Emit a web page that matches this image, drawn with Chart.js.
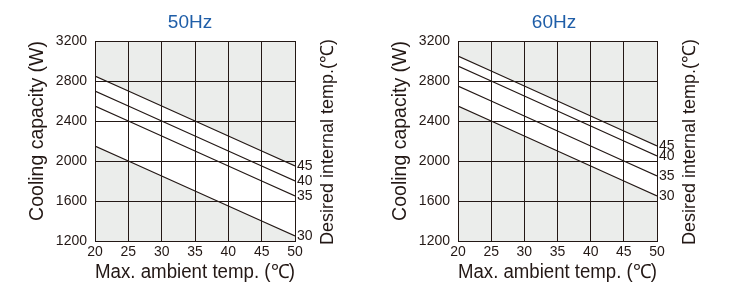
<!DOCTYPE html>
<html><head><meta charset="utf-8">
<script src="https://cdn.jsdelivr.net/npm/chart.js@4/dist/chart.umd.min.js"></script>
<style>
html,body{margin:0;padding:0;background:#fff;}
#wrap{position:relative;width:740px;height:300px;overflow:hidden;}
.c{position:absolute;top:0;width:370px;height:300px;}
</style></head><body>
<div id="wrap">
<div class="c" style="left:0"><canvas id="c50" width="370" height="300"></canvas></div>
<div class="c" style="left:370px"><canvas id="c60" width="370" height="300"></canvas></div>
</div>
<script>
// Max. ambient temp. (°C) — x categories
const ambientTemps = [20, 25, 30, 35, 40, 45, 50];
// Desired internal temp. series names
const internalTemps = ['45', '40', '35', '30'];

// 50Hz cooling capacity (W)
const hz50_45 = [2850, 2700, 2550, 2400, 2250, 2100, 1950];
const hz50_40 = [2700, 2550, 2400, 2250, 2100, 1950, 1800];
const hz50_35 = [2550, 2400, 2250, 2100, 1950, 1800, 1650];
const hz50_30 = [2150, 2000, 1850, 1700, 1550, 1400, 1250];

// 60Hz cooling capacity (W)
const hz60_45 = [3050, 2900, 2750, 2600, 2450, 2300, 2150];
const hz60_40 = [2950, 2800, 2650, 2500, 2350, 2200, 2050];
const hz60_35 = [2750, 2600, 2450, 2300, 2150, 2000, 1850];
const hz60_30 = [2550, 2400, 2250, 2100, 1950, 1800, 1650];

// axis tick settings
const yMin = 1200, yMax = 3200, yStep = 400;
const xMin = 20, xMax = 50, xStep = 5;

const INK = '#231815';
const BG = '#ebedeb';
const TITLE_BLUE = '#1f5ea8';
const FAM = "'Liberation Sans', Arial, sans-serif";

const bgPlugin = {
  id: 'bgArea',
  beforeDraw(chart) {
    const {ctx, chartArea: a} = chart;
    ctx.save();
    ctx.fillStyle = BG;
    ctx.fillRect(a.left, a.top, a.right - a.left, a.bottom - a.top);
    ctx.restore();
  }
};

const rightTitlePlugin = {
  id: 'rightTitle',
  afterDraw(chart, args, opts) {
    const s = chart.scales.y2;
    const ctx = chart.ctx;
    ctx.save();
    ctx.translate(s.left + opts.offset, (s.top + s.bottom) / 2 + 1);
    ctx.rotate(-Math.PI / 2);
    ctx.font = opts.size + 'px ' + FAM;
    ctx.fillStyle = INK;
    ctx.textAlign = 'center';
    ctx.textBaseline = 'middle';
    ctx.fillText(opts.text, 0, 0);
    ctx.restore();
  }
};

function makeChart(id, title, series, cfg) {
  const datasets = series.map((vals, i) => ({
    label: internalTemps[i],
    data: vals.map((v, j) => ({x: ambientTemps[j], y: v})),
    borderColor: INK,
    borderWidth: 1.2,
    pointRadius: 0,
    backgroundColor: '#ffffff',
    fill: i === 0 ? {target: series.length - 1} : false,
    tension: 0
  }));
  const endValues = series.map(v => v[v.length - 1]);
  return new Chart(document.getElementById(id), {
    type: 'line',
    data: {datasets},
    plugins: [bgPlugin, rightTitlePlugin],
    options: {
      responsive: false,
      animation: false,
      devicePixelRatio: 1,
      layout: {padding: {left: cfg.padL, right: cfg.padR, top: 0, bottom: 0}},
      plugins: {
        legend: {display: false},
        tooltip: {enabled: false},
        filler: {drawTime: 'beforeDatasetsDraw'},
        title: {
          display: true, text: title, color: TITLE_BLUE,
          font: {family: FAM, size: 19, weight: 'normal', lineHeight: 1.2},
          padding: {top: 11, bottom: 7.2}
        },
        rightTitle: {text: 'Desired internal temp.(℃)', offset: 33, size: 18}
      },
      scales: {
        x: {
          type: 'linear', min: xMin, max: xMax,
          ticks: {stepSize: xStep, color: INK, padding: 3, font: {family: FAM, size: 14},
                  callback: (v) => String(v)},
          grid: {color: INK, lineWidth: 1, drawTicks: false, z: 1},
          border: {color: INK, width: 1, z: 1},
          title: {display: true, text: 'Max. ambient temp. (℃)', color: INK,
                  font: {family: FAM, size: 19.5, lineHeight: 1.2}, padding: {top: 0, bottom: 16}},
          afterFit(s) { s.height = 59; }
        },
        y: {
          type: 'linear', min: yMin, max: yMax,
          ticks: {stepSize: yStep, color: INK, padding: 8, font: {family: FAM, size: 14},
                  callback: (v) => String(v)},
          grid: {color: INK, lineWidth: 1, drawTicks: false, z: 1},
          border: {color: INK, width: 1, z: 1},
          title: {display: true, text: 'Cooling capacity (W)', color: INK, align: 'end',
                  font: {family: FAM, size: 19.5, lineHeight: 1.2}, padding: {top: cfg.yTitlePad, bottom: 0}},
          afterFit(s) { s.width = cfg.yW; }
        },
        y2: {
          type: 'linear', position: 'right', min: yMin, max: yMax,
          afterBuildTicks(s) { s.ticks = endValues.map(v => ({value: v})); },
          ticks: {autoSkip: false, color: INK, padding: 2, font: {family: FAM, size: 14},
                  callback: (v) => internalTemps[endValues.indexOf(v)]},
          grid: {display: false, drawTicks: false},
          border: {display: false},
          afterFit(s) { s.width = cfg.y2W; }
        }
      }
    }
  });
}

makeChart('c50', '50Hz', [hz50_45, hz50_40, hz50_35, hz50_30],
  {padL: 10, padR: 0, yW: 85, y2W: 75, yTitlePad: 16.3});
makeChart('c60', '60Hz', [hz60_45, hz60_40, hz60_35, hz60_30],
  {padL: 0, padR: 2, yW: 88, y2W: 81, yTitlePad: 19.3});
</script>
</body></html>
